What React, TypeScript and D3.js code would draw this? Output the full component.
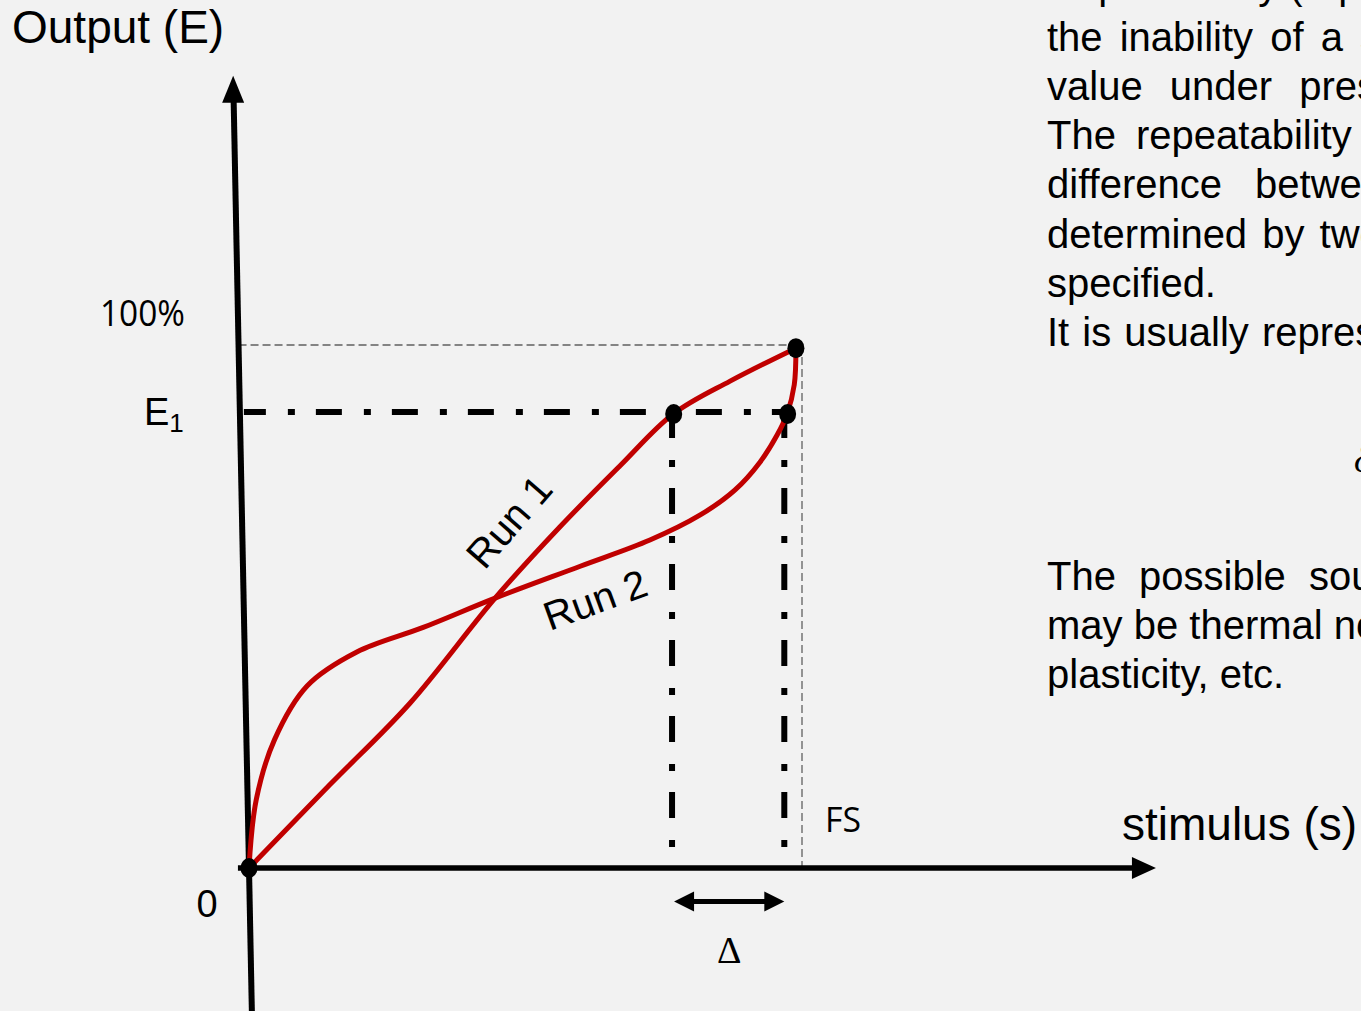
import React from "react";
import * as d3 from "d3";

// ---- data (in % of full scale) ----
const run1X = [0, 14.6, 29.1, 44.5, 56.2, 67.1, 76.7, 87.0, 98.9];
const run1Y = [0, 15.9, 31.5, 51.6, 65.2, 76.9, 86.8, 93.1, 99.4];
const run2X = [0, 1.3, 4.6, 10.5, 19.5, 31.5, 44.5, 59.9, 72.5, 81.6, 87.9, 92.4, 95.5, 97.3, 98.6, 98.9];
const run2Y = [0, 13.0, 24.5, 34.8, 41.3, 46.0, 51.6, 57.7, 62.7, 67.5, 72.3, 77.6, 82.8, 86.8, 92.4, 99.4];
const dotX = [0, 76.8, 97.4, 98.9];
const dotY = [0, 86.8, 86.8, 99.4];
const E1 = 87.2;
const FS = 100;
const run1Xe1 = 76.5;
const run2Xe1 = 96.8;
const yTickLabels = ["100%", "E", "0"];
const runLabels = ["Run 1", "Run 2"];

const textLines = [
  "Repeatability (repeatability) is",
  "the inability of a sensor to represent",
  "value under presumably identical",
  "The repeatability is expressed as",
  "difference between output readings",
  "determined by two calibrating cycles",
  "specified.",
  "It is usually represented as % of FS:",
];
const textLines2 = [
  "The possible sources of the repeatability",
  "may be thermal noise, buildup charge,",
  "plasticity, etc.",
];

const W = 1361;
const H = 1011;

export default function App() {
  const x = d3.scaleLinear().domain([0, 100]).range([249, 802]);
  const y = d3.scaleLinear().domain([0, 100]).range([868, 345]);
  const line = d3
    .line<[number, number]>()
    .x((d) => x(d[0]))
    .y((d) => y(d[1]))
    .curve(d3.curveCatmullRom.alpha(0.5));
  const r1 = run1X.map((v, i) => [v, run1Y[i]] as [number, number]);
  const r2 = run2X.map((v, i) => [v, run2Y[i]] as [number, number]);

  // tilted y axis
  const yAxTopY = y(147);
  const yAxBotY = H;
  const tilt = 0.02; // px of x per px of y
  const yAxX = (py: number) => x(0) - (y(0) - py) * tilt;
  const tipY = y(151.5);
  const tipX = yAxX(tipY);

  const xAxEnd = x(160);
  const xTip = x(164);
  const dd = "26,22,7,21";
  const arrowY = y(-6.4);
  const ax1 = x(run1Xe1) + 2;
  const ax2 = x(run2Xe1);

  const sideFont = "'Liberation Sans', Arial, sans-serif";
  const sideSize = 40;
  const wordSp = [0, 6, 16, 9, 22, 4, 0, 2];
  const wordSp2 = [12, 0, 0];
  const baselines = [-1, 51, 100, 149, 198, 248, 297, 346];
  const baselines2 = [590, 639, 688];

  return (
    <svg
      width={W}
      height={H}
      style={{ position: "absolute", left: 0, top: 0, display: "block", overflow: "hidden" }}
    >
      <rect width={W} height={H} fill="#f2f2f2" />

      {/* thin grey dashed guides */}
      <line x1={yAxX(y(FS))} x2={x(FS)} y1={y(FS)} y2={y(FS)} stroke="#606060" strokeWidth={1.3} strokeDasharray="8,4" />
      <line x1={x(FS)} x2={x(FS)} y1={y(FS)} y2={y(0)} stroke="#606060" strokeWidth={1.3} strokeDasharray="8,4" />

      {/* dash-dot E1 lines */}
      <line x1={yAxX(y(E1)) + 4} x2={x(run2Xe1) + 2} y1={y(E1)} y2={y(E1)} stroke="#000" strokeWidth={6} strokeDasharray={dd} strokeDashoffset={4} />
      <line x1={x(run1Xe1)} x2={x(run1Xe1)} y1={y(E1)} y2={y(0)} stroke="#000" strokeWidth={6} strokeDasharray={dd} />
      <line x1={x(run2Xe1)} x2={x(run2Xe1)} y1={y(E1)} y2={y(0)} stroke="#000" strokeWidth={6} strokeDasharray={dd} />

      {/* axes */}
      <line x1={yAxX(yAxBotY)} y1={yAxBotY} x2={yAxX(yAxTopY)} y2={yAxTopY} stroke="#000" strokeWidth={6} />
      <polygon points={`${tipX},${tipY} ${tipX - 11},${tipY + 27} ${tipX + 11},${tipY + 27}`} fill="#000" />
      <line x1={x(-2)} x2={xAxEnd} y1={y(0)} y2={y(0)} stroke="#000" strokeWidth={5.5} />
      <polygon points={`${xTip},${y(0)} ${xTip - 24},${y(0) - 11} ${xTip - 24},${y(0) + 11}`} fill="#000" />

      {/* curves */}
      <path d={line(r1) || ""} fill="none" stroke="#c00000" strokeWidth={5} strokeLinecap="round" />
      <path d={line(r2) || ""} fill="none" stroke="#c00000" strokeWidth={5} strokeLinecap="round" />

      {dotX.map((v, i) => (
        <ellipse key={i} cx={x(v)} cy={y(dotY[i])} rx={8.5} ry={10} fill="#000" />
      ))}

      {/* Δ arrow */}
      <line x1={ax1 + 18} x2={ax2 - 18} y1={arrowY} y2={arrowY} stroke="#000" strokeWidth={5} />
      <polygon points={`${ax1},${arrowY} ${ax1 + 20},${arrowY - 10} ${ax1 + 20},${arrowY + 10}`} fill="#000" />
      <polygon points={`${ax2},${arrowY} ${ax2 - 20},${arrowY - 10} ${ax2 - 20},${arrowY + 10}`} fill="#000" />
      <text x={(ax1 + ax2) / 2} y={arrowY + 62} textAnchor="middle" fontFamily="'Liberation Serif', 'DejaVu Serif', serif" fontSize={38}>
        Δ
      </text>

      {/* axis labels */}
      <text x={12} y={43} fontFamily={sideFont} fontSize={46}>
        Output (E)
      </text>
      <text x={1122} y={840} fontFamily={sideFont} fontSize={46}>
        stimulus (s)
      </text>
      <text x={185} y={y(FS) - 19} textAnchor="end" fontFamily="'Open Sans', 'DejaVu Sans', sans-serif" fontSize={36} textLength={85} lengthAdjust="spacingAndGlyphs">
        {yTickLabels[0]}
      </text>
      <text x={144} y={y(E1) + 13} fontFamily={sideFont} fontSize={38}>
        {yTickLabels[1]}
        <tspan fontSize={26} dy={7}>1</tspan>
      </text>
      <text x={207} y={y(0) + 49} textAnchor="middle" fontFamily={sideFont} fontSize={38}>
        {yTickLabels[2]}
      </text>
      <text x={x(FS) + 23} y={y(0) - 36} fontFamily="'Open Sans', 'DejaVu Sans', sans-serif" fontSize={34} textLength={36} lengthAdjust="spacingAndGlyphs">
        FS
      </text>

      {/* run labels */}
      <text transform={`translate(${x(42.6)},${y(56.8)}) rotate(-49)`} fontFamily={sideFont} fontSize={40}>
        {runLabels[0]}
      </text>
      <text transform={`translate(${x(54.4)},${y(45.3)}) rotate(-20)`} fontFamily={sideFont} fontSize={40}>
        {runLabels[1]}
      </text>

      {/* side text */}
      {textLines.map((t, i) => (
        <text key={i} x={1047} y={baselines[i]} fontFamily={sideFont} fontSize={sideSize} wordSpacing={wordSp[i]}>
          {t}
        </text>
      ))}
      <text x={1354} y={472} fontFamily="'Liberation Serif', serif" fontStyle="italic" fontSize={38}>
        δ
      </text>
      {textLines2.map((t, i) => (
        <text key={i} x={1047} y={baselines2[i]} fontFamily={sideFont} fontSize={sideSize} wordSpacing={wordSp2[i]}>
          {t}
        </text>
      ))}
    </svg>
  );
}
